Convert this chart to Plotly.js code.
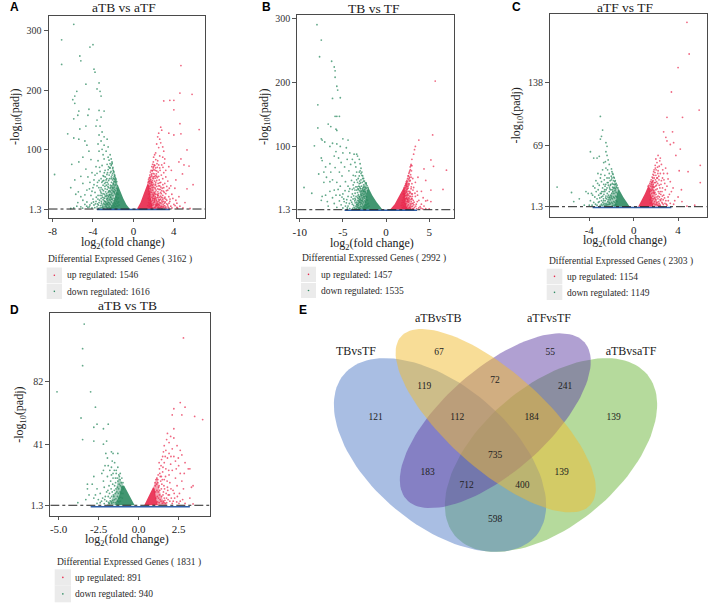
<!DOCTYPE html>
<html><head><meta charset="utf-8">
<script src="https://cdn.plot.ly/plotly-3.0.1.min.js"></script>
<style>html,body{margin:0;padding:0;background:#fff}</style></head>
<body><div id="chart" style="width:708px;height:603px"></div>
<script>
const threshold = 1.3;
const vennNames = ['TBvsTF','aTBvsTB','aTFvsTF','aTBvsaTF'];
const vennCounts = ['121','67','119','72','55','241','139','112','184','735','183','712','400','139','598'];
const legendTotals = ['3162','2992','2303','1831'];
const upCounts = ['1546','1457','1154','891'];
const downCounts = ['1616','1535','1149','940'];

const aUp = [[4.7,241],[4.6,195],[5.8,193],[3.0,182],[3.6,183],[4.0,183],[4.0,167],[4.6,144],[6.5,134],[2.8,133],[2.7,138],[3.5,128],[4.0,125],[4.7,127],[2.5,128],[2.4,122],[2.6,118],[2.3,110],[2.7,112],[2.9,105],[2.5,104],[3.0,98],[2.2,95],[2.1,92],[5.3,100],[4.7,85],[2.0,88],[2.6,90],[2.9,88],[3.1,85],[4.5,80],[5.0,75],[5.5,73],[2.4,82],[3.5,72],[2.0,72],[2.6,70],[1.9,66],[2.3,65],[3.0,62],[5.9,42],[5.3,35],[3.2,55],[1.8,58],[2.2,57],[2.5,56],[2.9,52],[3.4,48],[1.6,54],[2.0,52],[2.3,49],[2.7,46],[3.1,44],[3.7,40],[4.1,36],[1.5,48],[1.9,46],[2.2,43],[2.6,40],[3.0,37],[3.4,33],[3.8,26],[4.5,22],[1.7,40],[2.0,38],[2.4,35],[2.8,32],[3.2,27],[3.5,22],[4.2,16],[5.1,12],[1.9,33],[2.2,30],[2.5,27],[2.9,24],[3.2,18],[3.6,14],[4.0,9],[4.6,6],[2.0,24],[2.4,21],[2.7,18],[3.0,14],[3.3,10],[3.7,6],[4.3,4],[2.1,17],[2.5,14],[2.8,10],[3.1,7],[3.5,3],[2.3,10],[2.6,7],[2.9,4],[2.2,6],[2.5,3],[2.8,2.5],[3.3,2.4],[4.9,3],[5.6,2.2],[2.15,35],[2.35,26],[2.05,29],[2.75,27],[2.55,21],[1.85,37],[1.75,47],[2.15,41],[2.65,34],[3.05,29],[3.3,39],[2.45,44],[2.05,60],[2.2,70],[2.45,63],[2.8,75],[3.2,66]];
const aUpMore = [[1.62,44],[1.71,51],[1.83,56],[1.94,61],[2.03,67],[2.12,74],[1.58,39],[1.66,35],[1.77,42],[1.88,49],[1.99,55],[2.09,48],[2.18,53],[2.27,60],[2.36,71],[1.55,31],[1.64,28],[1.73,33],[1.81,29],[1.91,41],[2.01,43],[2.13,37],[2.24,33],[2.31,39],[2.42,30],[2.53,34],[2.61,45],[2.71,38],[1.52,26],[1.61,22],[1.72,25],[1.83,21],[1.93,26],[2.04,19],[2.17,22],[2.28,16],[2.39,24],[2.47,18],[2.58,12],[2.68,23],[2.79,15],[2.88,20],[2.97,31],[3.12,21],[1.48,19],[1.57,16],[1.68,18],[1.78,14],[1.89,16],[1.98,12],[2.11,13],[2.22,9],[2.34,13],[2.43,8],[2.54,16],[2.64,10],[2.74,6],[2.86,13],[2.95,9],[3.08,11],[3.21,5],[3.39,8],[3.52,11],[1.51,12],[1.59,9],[1.69,11],[1.79,8],[1.91,7],[2.01,9],[2.12,4],[2.26,7],[2.37,4],[2.48,5],[2.59,3],[2.71,3.5],[2.83,6],[3.02,4],[3.16,3],[3.42,5],[3.81,3],[4.12,7],[4.36,2.8],[1.42,7],[1.55,5],[1.66,6],[1.77,4],[1.88,3.2],[2.03,3],[2.18,2.6],[3.62,18],[3.9,19],[4.3,11],[3.27,32],[3.55,36],[2.91,42],[2.55,50],[2.37,54],[2.76,58],[2.64,66],[2.92,71],[2.21,84],[2.33,77],[2.5,75],[3.06,78],[3.75,66],[4.2,50],[4.85,60]];
const aUpRidge = [[1.45,46],[1.5,51],[1.56,53],[1.62,58],[1.68,63],[1.75,66],[1.82,72],[1.9,76],[1.97,80],[1.47,40],[1.55,47],[1.63,49],[1.7,55],[1.78,60],[1.86,65],[1.95,70],[2.05,75],[2.16,66],[1.6,36],[1.69,30],[1.8,45],[1.9,53],[2.08,56],[2.2,46],[2.3,56],[2.5,40],[2.68,29],[2.85,36],[2.2,26],[2.3,20],[2.46,24],[2.62,17],[2.75,21],[2.9,17],[3.05,19],[3.15,13],[3.3,16],[1.95,23],[2.1,27],[2.4,10],[2.7,12],[1.86,10],[1.92,19],[2.06,15],[2.16,19],[2.33,7],[2.52,9],[2.98,6]];
const aDown = [[-5.9,310],[-7.1,284],[-7.1,243],[-4.0,276],[-4.3,272],[-5.3,257],[-5.2,249],[-3.9,235],[-3.8,230],[-3.4,212],[-4.7,210],[-3.6,202],[-3.3,198],[-3.2,190],[-5.6,198],[-5.8,190],[-6.0,184],[-5.8,178],[-5.4,165],[-5.5,158],[-5.9,152],[-4.4,168],[-3.4,166],[-2.9,165],[-4.5,158],[-3.2,155],[-3.6,150],[-4.7,140],[-5.3,135],[-6.5,127],[-3.7,140],[-3.3,140],[-3.1,130],[-3.4,125],[-2.9,122],[-2.6,118],[-3.2,115],[-5.9,120],[-5.4,118],[-4.8,115],[-4.6,108],[-3.5,110],[-2.9,108],[-2.5,105],[-3.1,101],[-3.4,98],[-4.4,98],[-2.7,98],[-2.3,92],[-3.0,92],[-2.5,88],[-2.9,85],[-2.2,85],[-5.0,88],[-6.1,76],[-5.4,80],[-4.2,84],[-3.5,82],[-2.1,78],[-2.6,76],[-3.1,74],[-2.3,70],[-3.7,72],[-4.7,68],[-2.0,66],[-2.8,66],[-3.3,64],[-4.1,62],[-7.8,59],[-5.8,50],[-5.2,56],[-4.5,55],[-3.8,58],[-3.0,57],[-2.4,58],[-1.9,56],[-2.2,52],[-2.7,50],[-3.4,49],[-4.3,46],[-5.0,44],[-6.2,37],[-5.7,26],[-1.8,48],[-2.0,44],[-2.5,43],[-3.0,41],[-3.6,40],[-4.0,37],[-4.6,33],[-5.2,22],[-1.9,38],[-2.3,36],[-2.8,35],[-3.3,33],[-3.8,29],[-4.2,24],[-5.5,12],[-2.0,31],[-2.5,29],[-3.0,27],[-3.5,24],[-4.0,18],[-4.6,13],[-5.6,6],[-5.2,5],[-2.2,25],[-2.7,22],[-3.2,19],[-3.7,14],[-4.3,8],[-4.8,9],[-5.9,3],[-6.2,2.2],[-2.4,18],[-2.9,15],[-3.4,12],[-3.9,8],[-4.5,4],[-2.6,11],[-3.1,8],[-3.6,5],[-4.1,3],[-2.8,5],[-3.3,3],[-2.3,30],[-2.6,34],[-2.15,40],[-2.85,44],[-2.45,49],[-2.05,61],[-2.5,67],[-3.6,61],[-2.2,74],[-3.9,50],[-3.2,37],[-4.8,25],[-5.0,16]];
const aDownMore = [[-1.65,47],[-1.74,52],[-1.84,57],[-1.93,63],[-2.03,71],[-2.12,80],[-1.61,40],[-1.71,43],[-1.81,41],[-1.91,47],[-2.01,53],[-2.11,58],[-2.21,64],[-2.31,77],[-2.41,83],[-1.57,33],[-1.68,36],[-1.78,32],[-1.87,34],[-1.97,42],[-2.07,37],[-2.17,46],[-2.27,41],[-2.37,52],[-2.47,37],[-2.58,46],[-2.68,41],[-2.78,55],[-2.93,49],[-1.53,26],[-1.63,28],[-1.73,25],[-1.83,27],[-1.92,30],[-2.03,24],[-2.13,28],[-2.24,21],[-2.34,25],[-2.44,31],[-2.55,24],[-2.65,27],[-2.75,30],[-2.86,26],[-2.97,32],[-3.08,34],[-3.18,28],[-3.42,37],[-1.49,20],[-1.59,18],[-1.69,21],[-1.79,17],[-1.89,19],[-1.98,15],[-2.09,18],[-2.19,13],[-2.31,16],[-2.42,12],[-2.53,15],[-2.63,18],[-2.74,13],[-2.84,19],[-2.95,11],[-3.06,21],[-3.17,14],[-3.29,24],[-3.51,18],[-3.67,21],[-1.46,13],[-1.56,11],[-1.66,14],[-1.76,10],[-1.86,12],[-1.96,8],[-2.06,11],[-2.17,7],[-2.28,9],[-2.39,6],[-2.51,8],[-2.62,4],[-2.73,8],[-2.89,9],[-3.02,5],[-3.16,11],[-3.27,7],[-3.48,8],[-3.75,10],[-3.95,13],[-4.15,11],[-1.42,8],[-1.54,6],[-1.64,7],[-1.75,5],[-1.85,6],[-1.95,4],[-2.08,4],[-2.22,3.5],[-2.36,3],[-2.56,2.6],[-2.94,2.7],[-3.45,2.5],[-3.82,3.5],[-4.35,5],[-4.62,6],[-5.03,2.8],[-4.1,31],[-4.35,35],[-3.55,46],[-3.2,52],[-3.05,48],[-2.62,59],[-2.88,62],[-3.35,71],[-3.9,42],[-5.45,30]];
const aDownRidge = [[-1.72,50],[-1.8,54],[-1.88,59],[-1.96,64],[-2.05,69],[-2.15,76],[-1.76,46],[-1.85,51],[-1.95,52],[-2.06,50],[-2.18,55],[-2.28,62],[-2.35,70],[-2.45,72],[-2.56,62],[-1.88,29],[-2.02,36],[-2.12,33],[-2.25,38],[-2.36,32],[-2.52,39],[-2.63,52],[-2.73,46],[-2.82,39],[-2.92,56],[-3.12,46],[-2.18,18],[-2.28,21],[-2.38,25],[-2.48,22],[-2.58,19],[-2.68,24],[-2.8,23],[-2.92,20],[-3.12,24],[-3.24,30],[-2.35,10],[-2.47,12],[-2.57,9],[-2.7,10],[-2.83,14],[-3.0,17],[-3.35,16],[-2.45,4],[-2.68,5.5],[-3.1,3.5],[-3.55,10]];
const aUpFill = [[0.35,1.3],[0.7,12],[1.0,26],[1.3,39],[1.45,46],[1.55,36],[1.7,19],[1.9,1.3]];
const aDownFill = [[-0.35,1.3],[-0.7,9],[-1.0,19],[-1.3,31],[-1.55,42],[-1.7,30],[-1.95,14],[-2.35,1.3]];
const aUpHalo = [[1.4,42],[1.7,55],[1.95,42],[2.2,22],[2.6,8],[3.0,1.3],[1.8,1.3]];
const aDownHalo = [[-1.5,40],[-1.85,55],[-2.2,38],[-2.6,20],[-3.0,8],[-3.4,1.3],[-2.3,1.3]];
const aNs = [[-3.6,0.6],[3.6,0.6]];

const bUp = [[5.7,202],[5.4,118],[3.8,110],[3.4,100],[3.3,95],[3.2,88],[5.2,79],[5.5,69],[3.0,80],[7.0,63],[4.4,65],[2.9,72],[2.8,68],[3.7,52],[4.6,47],[5.2,32],[6.6,33],[4.8,16],[4.6,15],[5.2,14],[2.95,62],[2.85,56],[2.7,60],[2.6,54],[3.1,50],[2.5,50],[3.4,44],[2.75,46],[3.0,42],[2.4,44],[3.2,36],[2.9,34],[3.6,30],[2.55,38],[2.75,30],[3.05,26],[3.4,22],[3.8,16],[4.1,10],[2.6,30],[2.85,22],[3.15,16],[3.5,10],[4.4,7],[2.45,24],[2.7,18],[3.0,11],[3.3,5],[3.8,4],[2.5,14],[2.8,7],[3.1,3],[4.6,3],[5.0,2.5],[2.3,36],[2.15,26],[2.25,18],[2.4,33],[2.65,40],[2.35,28],[3.65,24],[3.95,6],[2.95,19]];
const bUpMore = [[2.52,45],[2.44,40],[2.36,38],[2.62,48],[2.72,52],[2.82,64],[2.68,42],[2.58,35],[2.48,34],[2.38,30],[2.28,31],[2.18,29],[2.08,25],[2.12,22],[2.22,23],[2.32,24],[2.42,21],[2.52,26],[2.62,24],[2.72,27],[2.82,28],[2.92,37],[2.02,20],[2.12,17],[2.22,15],[2.32,19],[2.42,14],[2.52,18],[2.62,13],[2.72,15],[2.82,11],[2.92,14],[3.02,18],[3.12,11],[3.25,13],[1.92,16],[2.03,13],[2.14,11],[2.26,9],[2.37,11],[2.47,7],[2.58,9],[2.68,5],[2.78,4],[2.88,9],[2.98,6],[3.08,7],[3.22,9],[3.44,7],[1.85,12],[1.95,9],[2.05,7],[2.17,6],[2.29,5],[2.41,4],[2.53,3.5],[2.65,3],[2.87,3.2],[3.18,2.8],[3.55,3],[4.05,3.6],[4.25,2.5],[1.78,8],[1.88,5],[1.98,4],[2.1,3.2],[2.26,2.7],[2.96,26],[3.12,32],[3.35,27],[3.62,14],[4.3,20],[4.1,30]];
const bUpRidge = [[2.12,36],[2.2,39],[2.28,42],[2.35,45],[2.42,47],[2.55,54],[2.65,58],[2.75,62],[2.88,70],[3.0,70],[2.1,32],[2.18,34],[2.3,40],[2.38,42],[2.47,37],[2.55,42],[2.68,50],[2.8,47],[2.9,52],[2.0,26],[2.08,30],[2.22,27],[2.35,19],[2.45,17],[2.55,16],[2.65,20],[2.75,22],[2.88,17],[3.05,22]];
const bDown = [[-8,290],[-7.5,266],[-7.7,240],[-6.3,233],[-6.0,224],[-5.9,218],[-5.9,208],[-5.7,194],[-5.6,188],[-6.2,175],[-5.3,176],[-7.9,165],[-5.7,147],[-5.4,147],[-5.9,147],[-6.7,135],[-6.4,131],[-7.9,129],[-5.8,127],[-5.7,125],[-7.5,112],[-7.4,110],[-8.3,101],[-5.0,112],[-4.4,110],[-7.1,107],[-6.2,105],[-5.7,104],[-5.3,100],[-6.5,100],[-4.6,98],[-5.8,92],[-5.0,90],[-4.2,90],[-3.7,88],[-3.4,88],[-3.3,85],[-7.5,82],[-7.4,78],[-6.0,85],[-5.5,82],[-4.5,80],[-3.9,80],[-3.1,80],[-3.6,75],[-5.2,75],[-6.5,73],[-4.1,72],[-3.0,73],[-7.0,68],[-5.9,67],[-4.8,68],[-3.5,68],[-2.9,66],[-7.8,57],[-7.2,60],[-6.4,60],[-5.4,60],[-4.3,62],[-3.4,60],[-2.8,60],[-6.9,52],[-6.2,48],[-5.1,54],[-3.8,55],[-3.1,54],[-2.7,54],[-7.2,44],[-6.5,45],[-5.7,44],[-4.7,45],[-4.0,47],[-3.4,48],[-2.9,48],[-2.6,46],[-9.5,36],[-8.6,27],[-7.4,22],[-7.0,24],[-6.5,30],[-6.0,32],[-5.3,38],[-4.4,38],[-3.8,40],[-3.1,42],[-2.6,40],[-7.5,16],[-6.8,14],[-6.2,20],[-5.8,24],[-5.0,26],[-4.3,30],[-3.6,32],[-3.0,35],[-2.7,32],[-6.0,11],[-5.4,15],[-4.9,18],[-4.4,22],[-3.9,26],[-3.3,28],[-2.9,27],[-6.7,7],[-5.7,5],[-5.2,9],[-4.6,12],[-4.1,16],[-3.6,19],[-3.1,22],[-2.6,22],[-5.0,4],[-4.4,7],[-3.9,10],[-3.4,13],[-2.9,16],[-4.2,3],[-3.7,5],[-3.2,8],[-3.6,2.5],[-3.0,3.5],[-2.7,9],[-2.5,29],[-2.4,36],[-2.3,43],[-3.25,34],[-3.75,23],[-4.75,31],[-5.55,33]];
const bDownMore = [[-2.45,33],[-2.55,37],[-2.65,36],[-2.75,44],[-2.85,38],[-2.95,43],[-3.05,46],[-3.15,38],[-3.3,44],[-3.5,37],[-2.35,28],[-2.47,26],[-2.58,30],[-2.69,27],[-2.79,24],[-2.89,31],[-2.99,29],[-3.09,31],[-3.19,25],[-3.39,32],[-3.58,27],[-3.72,35],[-2.25,21],[-2.36,23],[-2.47,19],[-2.57,21],[-2.67,18],[-2.77,20],[-2.87,23],[-2.97,18],[-3.07,17],[-3.18,19],[-3.31,16],[-3.47,22],[-3.62,15],[-3.82,18],[-4.02,21],[-2.15,16],[-2.27,17],[-2.37,13],[-2.48,15],[-2.58,12],[-2.68,14],[-2.78,11],[-2.88,12],[-2.98,10],[-3.09,13],[-3.21,11],[-3.33,9],[-3.46,7],[-3.57,12],[-3.75,8],[-3.98,13],[-4.25,11],[-2.05,11],[-2.17,10],[-2.28,8],[-2.39,9],[-2.51,6],[-2.62,7],[-2.73,5],[-2.84,6],[-2.95,7],[-3.06,5],[-3.17,4],[-3.29,5.5],[-3.42,3.2],[-3.86,3.2],[-4.48,4],[-4.7,7],[-1.95,7],[-2.07,6],[-2.19,5],[-2.31,4],[-2.43,3.4],[-2.56,3],[-2.68,2.6],[-2.9,2.4],[-3.12,2.6],[-4.85,14],[-5.1,21],[-5.35,24],[-4.55,17],[-4.2,34],[-3.9,33],[-3.68,44],[-3.22,50],[-3.55,54]];
const bDownRidge = [[-2.1,36],[-2.2,39],[-2.3,41],[-2.4,43],[-2.5,46],[-2.6,50],[-2.7,50],[-2.8,55],[-2.9,58],[-3.0,62],[-3.1,60],[-2.15,31],[-2.3,35],[-2.4,30],[-2.55,32],[-2.65,30],[-2.75,34],[-2.85,30],[-2.95,34],[-3.05,37],[-3.2,33],[-3.35,37],[-2.3,26],[-2.45,22],[-2.6,25],[-2.75,16],[-2.85,15],[-3.0,13],[-3.15,15],[-3.3,20],[-3.4,10],[-3.55,17],[-2.92,25],[-3.05,21],[-3.25,23]];
const bUpFill = [[0.45,1.3],[1.0,10],[1.45,21],[1.9,32],[2.1,37],[2.2,24],[2.3,12],[2.5,1.3]];
const bDownFill = [[-0.4,1.3],[-1.08,13],[-1.6,24],[-2.05,36],[-2.25,27],[-2.45,13],[-2.75,1.3]];
const bUpHalo = [[2.05,35],[2.4,45],[2.55,28],[2.7,14],[2.95,1.3],[2.45,1.3]];
const bDownHalo = [[-2.0,34],[-2.5,42],[-2.9,28],[-3.3,14],[-3.8,1.3],[-2.7,1.3]];
const bNs = [[-4.8,0.5],[3.6,0.5]];

const cUp = [[4.8,205],[5.0,170],[4.0,155],[3.4,128],[5.9,108],[4.4,100],[3.0,100],[2.7,84],[3.5,84],[2.9,78],[3.0,74],[3.3,70],[3.6,72],[4.2,65],[6.0,47],[2.2,58],[2.4,55],[3.8,58],[4.1,41],[4.9,40],[6.0,28],[4.3,20],[4.0,12],[3.7,8],[4.8,2],[2.0,54],[2.1,50],[2.3,46],[2.5,48],[1.95,44],[2.2,41],[2.4,38],[2.0,36],[1.8,40],[2.7,38],[3.1,32],[2.15,33],[2.5,30],[2.8,27],[3.3,29],[1.75,30],[1.95,28],[2.3,25],[2.6,22],[3.0,24],[3.4,18],[1.7,24],[2.0,20],[2.4,18],[2.7,14],[3.1,12],[3.6,4],[1.85,16],[2.2,13],[2.5,10],[2.9,8],[3.3,5],[1.9,11],[2.25,7],[2.6,5],[3.0,3],[2.4,3],[5.5,3],[2.05,25],[1.85,33],[2.6,33],[2.35,52],[2.15,45],[1.7,20]];
const cUpMore = [[1.55,24],[1.63,28],[1.72,33],[1.82,36],[1.92,39],[2.02,42],[1.58,19],[1.66,22],[1.76,26],[1.86,23],[1.96,31],[2.06,29],[2.16,27],[2.26,35],[2.36,22],[1.52,14],[1.62,16],[1.72,13],[1.82,19],[1.92,17],[2.02,15],[2.12,21],[2.22,18],[2.32,12],[2.44,15],[2.55,18],[2.66,9],[2.78,11],[1.49,9],[1.59,11],[1.69,8],[1.79,10],[1.89,7],[1.99,9],[2.09,6],[2.19,10],[2.31,5],[2.43,8],[2.54,6],[2.67,3.6],[2.82,5],[2.94,4],[3.12,8],[1.5,5],[1.61,6],[1.71,4],[1.81,5],[1.92,3.5],[2.04,4],[2.15,3],[2.28,2.6],[2.85,20],[3.22,15],[2.46,26],[2.73,31],[3.04,38],[2.88,44],[2.62,42],[3.55,22],[4.35,7]];
const cUpRidge = [[1.3,24],[1.38,25],[1.46,27],[1.52,29],[1.58,31],[1.66,34],[1.74,37],[1.84,42],[1.94,47],[1.42,21],[1.48,18],[1.54,20],[1.6,26],[1.68,29],[1.78,23],[1.87,28],[1.97,24],[2.08,33],[2.18,38],[2.28,31],[1.56,12],[1.66,10],[1.76,17],[2.1,12],[2.3,16],[2.38,9],[2.58,13]];
const cDown = [[-3.0,101],[-2.8,86],[-2.9,79],[-3.0,76],[-2.5,72],[-2.4,68],[-2.5,62],[-3.9,62],[-3.1,57],[-3.6,55],[-3.3,55],[-2.4,58],[-2.3,53],[-2.7,50],[-6.9,23],[-5.6,17],[-5.4,7],[-4.9,10],[-4.3,18],[-4.1,16],[-3.7,14],[-2.2,48],[-2.5,44],[-2.0,43],[-2.8,42],[-1.9,38],[-2.2,38],[-3.0,33],[-2.6,36],[-2.4,33],[-1.8,34],[-2.0,31],[-3.4,30],[-2.9,29],[-3.1,25],[-2.3,28],[-1.7,29],[-2.7,26],[-2.1,25],[-3.5,22],[-3.8,16],[-3.2,20],[-2.8,22],[-2.4,22],[-1.9,23],[-3.0,16],[-2.6,18],[-2.2,18],[-3.5,12],[-3.9,8],[-3.3,10],[-2.9,12],[-2.5,13],[-2.1,14],[-3.6,6],[-3.1,7],[-2.7,8],[-2.3,9],[-3.3,3],[-2.9,4],[-2.5,5],[-4.0,3],[-2.2,4],[-1.95,20],[-2.35,42],[-1.85,26],[-2.65,31],[-3.25,27]];
const cDownMore = [[-1.55,23],[-1.62,26],[-1.72,22],[-1.82,30],[-1.92,27],[-2.02,35],[-2.12,30],[-2.22,33],[-1.58,17],[-1.68,19],[-1.78,16],[-1.88,18],[-1.98,16],[-2.08,20],[-2.18,23],[-2.28,14],[-2.38,16],[-2.48,20],[-2.58,24],[-2.68,15],[-2.78,13],[-2.88,18],[-1.52,12],[-1.62,13],[-1.72,11],[-1.82,12],[-1.92,10],[-2.02,11],[-2.12,9],[-2.22,11],[-2.34,7],[-2.44,10],[-2.56,8],[-2.66,5],[-2.78,6],[-2.9,8],[-3.05,11],[-3.18,6],[-1.5,7],[-1.6,8],[-1.7,6],[-1.8,7],[-1.9,5],[-2.0,6],[-2.1,4.5],[-2.2,6],[-2.32,3.5],[-2.44,3.2],[-2.58,3],[-2.72,3.5],[-2.85,2.6],[-3.02,2.8],[-3.44,4],[-3.75,3],[-4.45,3],[-1.55,3.5],[-1.66,3.2],[-1.78,3],[-1.92,2.8],[-3.15,14],[-3.38,18],[-3.65,24],[-2.95,37],[-3.22,38],[-2.55,51]];
const cDownRidge = [[-1.42,22],[-1.5,25],[-1.58,27],[-1.66,30],[-1.75,33],[-1.86,37],[-1.96,40],[-1.64,21],[-1.74,26],[-1.84,22],[-1.96,33],[-2.06,26],[-2.16,21],[-2.28,25],[-2.38,28],[-2.52,26],[-2.62,20],[-2.75,18],[-2.92,16],[-2.0,13],[-2.16,12],[-2.32,12],[-2.52,11],[-2.72,10]];
const cUpFill = [[0.4,1.3],[0.7,8],[1.02,16],[1.3,24],[1.42,23],[1.55,13],[1.78,1.3]];
const cDownFill = [[-0.35,1.3],[-0.94,12],[-1.35,21],[-1.5,16],[-1.6,8],[-1.78,1.3]];
const cUpHalo = [[1.38,24],[1.75,32],[1.9,18],[2.1,8],[2.5,1.3],[1.75,1.3]];
const cDownHalo = [[-1.32,20],[-1.7,28],[-1.95,18],[-2.3,8],[-2.8,1.3],[-1.75,1.3]];
const cNs = [[-3.7,0.5],[3.4,0.5]];

const dUp = [[2.8,110],[2.6,68],[2.9,65],[2.2,64],[2.7,60],[2.1,60],[3.5,59],[4.0,57],[2.2,51],[1.8,48],[2.0,46],[2.2,45],[1.9,42],[2.4,40],[1.6,40],[2.1,38],[1.7,37],[2.6,37],[1.9,35],[2.7,34],[1.5,33],[2.2,33],[1.8,32],[2.3,30],[2.9,29],[3.2,25],[3.1,25],[1.6,29],[2.0,28],[2.5,27],[1.4,27],[1.7,25],[2.1,24],[2.6,22],[1.3,25],[1.5,23],[1.9,21],[2.3,19],[2.7,17],[3.4,14],[3.3,13],[1.35,20],[1.6,18],[1.95,16],[2.4,14],[2.8,12],[1.2,18],[1.45,15],[1.8,13],[2.15,11],[2.55,9],[3.2,6],[1.25,13],[1.55,10],[1.85,8],[2.25,6],[2.6,4],[1.3,8],[1.6,6],[1.95,4],[1.4,4],[1.75,3],[2.1,2.5],[2.9,2.5],[3.4,2.2],[2.85,22],[2.35,25],[1.55,36],[1.75,44]];
const dUpMore = [[1.02,16],[1.08,18],[1.14,19],[1.22,21],[1.32,22],[1.42,20],[1.52,26],[1.04,14],[1.12,15],[1.2,16],[1.28,14],[1.38,17],[1.48,18],[1.58,14],[1.68,20],[1.78,17],[1.88,24],[1.06,10],[1.14,11],[1.22,10],[1.32,11],[1.42,12],[1.52,8],[1.62,12],[1.72,9],[1.82,11],[1.92,8],[2.02,12],[2.22,9],[2.42,7],[1.08,6],[1.16,7],[1.24,6],[1.34,5],[1.44,7],[1.54,4],[1.64,4.5],[1.74,6],[1.84,5],[2.04,6],[2.16,4],[2.38,3.5],[1.18,3.5],[1.28,3],[1.48,2.7],[1.58,3],[1.68,2.5],[2.52,2.6],[2.75,5],[2.02,33],[1.43,31],[1.66,33],[2.48,32],[1.28,29]];
const dDown = [[-3.4,119],[-3.5,103],[-3.5,92],[-5.1,75],[-3.0,75],[-2.7,65],[-3.6,58],[-2.6,54],[-2.8,52],[-1.9,54],[-2.2,51],[-2.8,43],[-3.5,44],[-2.0,43],[-2.2,41],[-1.7,36],[-1.6,35],[-1.3,35],[-2.1,27],[-1.9,27],[-1.5,29],[-1.7,26],[-1.3,26],[-2.2,24],[-1.8,24],[-1.4,24],[-1.15,22],[-2.8,20],[-2.3,22],[-1.6,22],[-1.2,20],[-1.95,20],[-1.45,19],[-3.2,15],[-2.9,15],[-2.2,17],[-1.75,17],[-1.3,17],[-3.2,12],[-2.6,12],[-2.15,13],[-1.85,14],[-1.5,14],[-3.1,8],[-2.7,8],[-2.4,9],[-2.0,10],[-1.65,10],[-3.3,5],[-2.8,6],[-2.25,6],[-1.9,7],[-1.55,7],[-3.8,3],[-2.4,3],[-2.0,4],[-1.7,3.5],[-2.6,2.5],[-2.15,2.4],[-1.4,22],[-1.05,19],[-1.25,12]];
const dDownMore = [[-0.98,16],[-1.08,16],[-1.16,18],[-1.24,21],[-1.34,19],[-1.44,16],[-0.96,12],[-1.06,13],[-1.14,14],[-1.22,15],[-1.32,13],[-1.42,12],[-1.52,11],[-1.62,15],[-1.72,12],[-1.82,9],[-0.98,9],[-1.08,9],[-1.16,10],[-1.26,9],[-1.36,10],[-1.46,9],[-1.58,8],[-1.68,7],[-1.78,6],[-1.92,11],[-2.08,7],[-1.02,6],[-1.12,6.5],[-1.22,6],[-1.32,7],[-1.42,5.5],[-1.52,5],[-1.62,4.5],[-1.78,4.2],[-1.88,3.2],[-2.12,5],[-2.32,4],[-2.52,5],[-1.14,4],[-1.24,3.5],[-1.34,4],[-1.46,3],[-1.58,3.2],[-1.68,2.6],[-1.84,2.5],[-1.6,19],[-1.7,21],[-1.52,24],[-1.95,32],[-1.65,30],[-2.05,35]];
const dUpFill = [[0.35,1.3],[0.7,9],[0.9,13],[1.0,12],[1.08,6],[1.2,1.3]];
const dDownFill = [[-0.25,1.3],[-0.65,9],[-0.9,14],[-1.05,14],[-1.2,8],[-1.48,1.3]];
const dUpHalo = [[0.88,12],[1.15,20],[1.3,11],[1.5,5],[1.8,1.3],[1.15,1.3]];
const dDownHalo = [[-0.88,13],[-1.25,20],[-1.45,10],[-1.7,5],[-2.0,1.3],[-1.45,1.3]];
const dNs = [[-3.0,0.4],[3.2,0.4]];

const panels = [
 {title:'aTB vs aTF',letter:'A',up:aUp.concat(aUpMore,aUpRidge),down:aDown.concat(aDownMore,aDownRidge),upF:aUpFill,downF:aDownFill,upH:aUpHalo,downH:aDownHalo,ns:aNs,px:[48.5,205,15.5,218],xr:[-8.4,7.08],yr:[-13.7,324.7],xt:[-8,-4,0,4],xl:['-8','-4','0','4'],yt:[1.3,100,200,300],yl:['1.3','100','200','300']},
 {title:'TB vs TF',letter:'B',up:bUp.concat(bUpMore,bUpRidge),down:bDown.concat(bDownMore,bDownRidge),upF:bUpFill,downF:bDownFill,upH:bUpHalo,downH:bDownHalo,ns:bNs,px:[297.3,454.3,15.3,218.3],xr:[-10.28,7.91],yr:[-12.1,304.7],xt:[-10,-5,0,5],xl:['-10','-5','0','5'],yt:[1.3,100,200,300],yl:['1.3','100','200','300']},
 {title:'aTF vs TF',letter:'C',up:cUp.concat(cUpMore,cUpRidge),down:cDown.concat(cDownMore,cDownRidge),upF:cUpFill,downF:cDownFill,upH:cUpHalo,downH:cDownHalo,ns:cNs,px:[550,706.7,14,216.7],xr:[-7.54,6.58],yr:[-9.75,214.2],xt:[-4,0,4],xl:['-4','0','4'],yt:[1.3,69,138],yl:['1.3','69','138']},
 {title:'aTB vs TB',letter:'D',up:dUp.concat(dUpMore),down:dDown.concat(dDownMore),upF:dUpFill,downF:dDownFill,upH:dUpHalo,downH:dDownHalo,ns:dNs,px:[50.3,209.7,313.3,516],xr:[-5.52,4.44],yr:[-5.66,126],xt:[-5,-2.5,0,2.5],xl:['-5.0','-2.5','0.0','2.5'],yt:[1.3,41,82],yl:['1.3','41','82']}
];
// layout placement, in page pixels
const titlePos = [[123.7,7.5],[374.3,8.5],[625.7,7],[127.7,305.3]];
const xTitlePos = [[123.3,242.5],[372.3,243.5],[625,241],[126.7,540]];
const letterPos = [[14,7],[266,6.5],[516.7,7],[14.7,310]];
const legendPos = [
 {tx:46,ty:259,bx:[46.7,62],by:[[267.5,283],[283.7,299]],lx:64.7,ly:[275,292]},
 {tx:300,ty:258.7,bx:[301,316],by:[[266.7,282],[283,298]],lx:318.7,ly:[275,290.7]},
 {tx:546.7,ty:261,bx:[546.7,562.3],by:[[268.7,284],[284.7,300]],lx:565,ly:[277,293]},
 {tx:54.7,ty:562.3,bx:[54.7,71],by:[[569.3,585.5],[585.5,602.3]],lx:73,ly:[577.7,594]}
];
const RED='#E8274B',GREEN='#2E8B62',BLUE='#2E5FA8';
const SERIF='"Liberation Serif","Times New Roman",serif';
const W=708,H=603;
const data=[],shapes=[],annotations=[],layout={};
const xs=a=>a.map(p=>p[0]),ys=a=>a.map(p=>p[1]);
const txt=(x,y,text,size,opt={})=>annotations.push(Object.assign({xref:'x5',yref:'y5',x,y,text,showarrow:false,xanchor:'left',yanchor:'middle',font:{family:SERIF,size,color:'#2a2a2a'}},opt));

panels.forEach((p,i)=>{
  const n=i+1,xa='x'+n,ya='y'+n;
  layout['xaxis'+n]={domain:[p.px[0]/W,p.px[1]/W],range:p.xr,anchor:ya,tickmode:'array',tickvals:p.xt,ticktext:p.xl,
    showgrid:false,zeroline:false,showline:true,mirror:true,linecolor:'#4a4a4a',linewidth:1,ticks:'outside',ticklen:3,tickcolor:'#555',
    tickfont:{family:SERIF,size:11,color:'#222'}};
  layout['yaxis'+n]={domain:[1-p.px[3]/H,1-p.px[2]/H],range:p.yr,anchor:xa,tickmode:'array',tickvals:p.yt,ticktext:p.yl,
    showgrid:false,zeroline:false,showline:true,mirror:true,linecolor:'#4a4a4a',linewidth:1,ticks:'outside',ticklen:4,tickcolor:'#555',
    tickfont:{family:SERIF,size:10,color:'#333'},
    title:{text:'-log<sub>10</sub>(padj)',font:{family:SERIF,size:12,color:'#222'},standoff:4}};
  const common={xaxis:xa,yaxis:ya,showlegend:false,hoverinfo:'skip'};
  const poly=(a,c)=>data.push(Object.assign({type:'scatter',mode:'lines',x:xs(a),y:ys(a),fill:'toself',fillcolor:c,line:{width:0}},common));
  poly(p.downH,'rgba(46,139,98,0.42)');
  poly(p.upH,'rgba(232,39,75,0.42)');
  poly(p.downF,'rgba(46,139,98,0.9)');
  poly(p.upF,'rgba(232,39,75,0.9)');
  data.push(Object.assign({type:'scatter',mode:'markers',x:xs(p.down),y:ys(p.down),marker:{size:1.8,color:GREEN,opacity:.75}},common));
  data.push(Object.assign({type:'scatter',mode:'markers',x:xs(p.up),y:ys(p.up),marker:{size:1.8,color:RED,opacity:.7}},common));
  data.push(Object.assign({type:'scatter',mode:'lines',x:xs(p.ns),y:ys(p.ns),line:{width:1.5,color:BLUE}},common));
  data.push(Object.assign({type:'scatter',mode:'lines',x:p.xr,y:[threshold,threshold],line:{width:1,color:'#222',dash:'dashdot'}},common));
  annotations.push({xref:'x5',yref:'y5',x:titlePos[i][0],y:titlePos[i][1],text:p.title,showarrow:false,xanchor:'center',yanchor:'middle',font:{family:SERIF,size:13.5,color:'#222'}});
  annotations.push({xref:'x5',yref:'y5',x:xTitlePos[i][0],y:xTitlePos[i][1],text:'log<sub>2</sub>(fold change)',showarrow:false,xanchor:'center',yanchor:'middle',font:{family:SERIF,size:12,color:'#222'}});
  annotations.push({xref:'x5',yref:'y5',x:letterPos[i][0],y:letterPos[i][1],text:'<b>'+p.letter+'</b>',showarrow:false,xanchor:'center',yanchor:'middle',font:{family:'"Liberation Sans",Arial,sans-serif',size:12,color:'#000'}});
  const L=legendPos[i];
  txt(L.tx,L.ty,'Differential Expressed Genes ( '+legendTotals[i]+' )',9.5);
  L.by.forEach((b,k)=>{
    shapes.push({type:'rect',xref:'x5',yref:'y5',x0:L.bx[0],x1:L.bx[1],y0:b[0],y1:b[1],fillcolor:'#ebebeb',line:{width:0},layer:'below'});
    txt(L.lx,L.ly[k],(k?'down regulated: '+downCounts[i]:'up regulated: '+upCounts[i]),9.5);
  });
  data.push({type:'scatter',mode:'markers',xaxis:'x5',yaxis:'y5',showlegend:false,hoverinfo:'skip',
    x:[(L.bx[0]+L.bx[1])/2,(L.bx[0]+L.bx[1])/2],y:[(L.by[0][0]+L.by[0][1])/2,(L.by[1][0]+L.by[1][1])/2],marker:{size:1.6,color:[RED,GREEN]}});
});

// Venn ellipses: centre, semi-axes, tilt, in page pixels; listed bottom to top
const ellipses=[
 {cx:551,cy:455,a:125.5,b:70,deg:-40,color:'rgba(107,181,57,0.5)'},
 {cx:440,cy:455,a:125.5,b:70,deg:40,color:'rgba(83,125,199,0.5)'},
 {cx:495.3,cy:420.7,a:118.7,b:51.7,deg:-41.3,color:'rgba(97,65,165,0.5)'},
 {cx:495.7,cy:420.7,a:126.7,b:48.7,deg:41.6,color:'rgba(241,187,47,0.5)'}
];
ellipses.forEach(e=>{
  const ex=[],ey=[],t=e.deg*Math.PI/180;
  for(let k=0;k<=120;k++){const u=k/120*2*Math.PI,c=e.a*Math.cos(u),s=e.b*Math.sin(u);
    ex.push(e.cx+c*Math.cos(t)-s*Math.sin(t));ey.push(e.cy+c*Math.sin(t)+s*Math.cos(t));}
  data.push({type:'scatter',mode:'lines',xaxis:'x5',yaxis:'y5',x:ex,y:ey,fill:'toself',fillcolor:e.color,line:{width:0},showlegend:false,hoverinfo:'skip'});
});
const vennNameX=[356,438.3,549,631],vennNameY=[352.3,319.3,319.3,352.3];
const vennCountX=[375.7,439,424.3,495,550.3,565,613.7,457.3,531.7,495,427.7,466.7,522.3,561.7,495];
const vennCountY=[417.7,352.7,387,380.3,352.7,387,417.7,417.7,417.7,455.3,472.3,486,486,472.3,520];
data.push({type:'scatter',mode:'text',xaxis:'x5',yaxis:'y5',x:vennNameX,y:vennNameY,text:vennNames,textposition:'middle center',textfont:{family:SERIF,size:12,color:'#222'},showlegend:false,hoverinfo:'skip'});
data.push({type:'scatter',mode:'text',xaxis:'x5',yaxis:'y5',x:vennCountX,y:vennCountY,text:vennCounts,textposition:'middle center',textfont:{family:SERIF,size:9.5,color:'#222'},showlegend:false,hoverinfo:'skip'});
annotations.push({xref:'x5',yref:'y5',x:303,y:310,text:'<b>E</b>',showarrow:false,xanchor:'center',yanchor:'middle',font:{family:'"Liberation Sans",Arial,sans-serif',size:12,color:'#000'}});

layout.xaxis5={domain:[0,1],range:[0,W],visible:false,anchor:'y5',fixedrange:true};
layout.yaxis5={domain:[0,1],range:[H,0],visible:false,anchor:'x5',fixedrange:true};
Object.assign(layout,{width:W,height:H,margin:{l:0,r:0,t:0,b:0},paper_bgcolor:'#fff',plot_bgcolor:'rgba(0,0,0,0)',shapes,annotations,showlegend:false});
Plotly.newPlot('chart',data,layout,{displayModeBar:false,staticPlot:true});
</script></body></html>
